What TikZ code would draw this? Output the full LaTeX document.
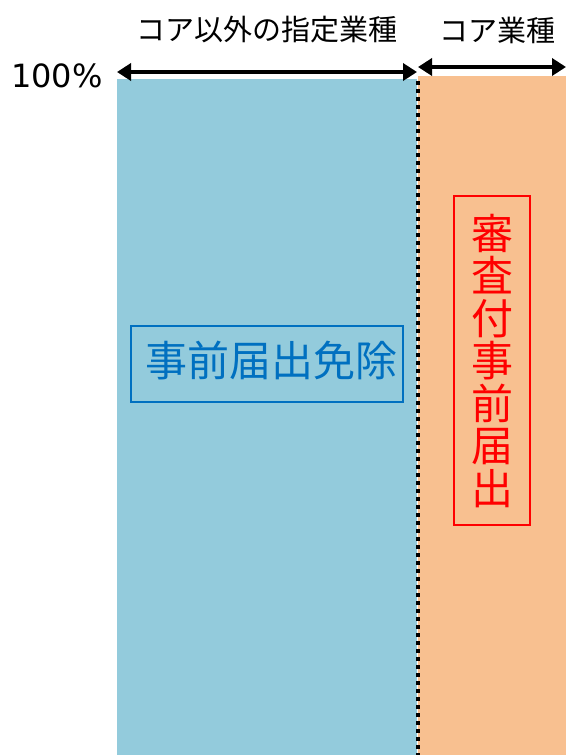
\documentclass[tikz,border=0pt]{standalone}
\usepackage{fontspec}
\setmainfont{Noto Sans CJK JP}
\newfontfamily\pctfont{DejaVu Sans}
\usetikzlibrary{arrows.meta}
\definecolor{bluefill}{HTML}{93CBDC}
\definecolor{orangefill}{HTML}{F8C090}
\definecolor{bluetext}{HTML}{0070C0}
\definecolor{redtext}{HTML}{FF0000}
\tikzset{
  dim/.style={line width=4pt,{Triangle[length=14pt,width=17pt]}-{Triangle[length=14pt,width=17pt]}},
  head/.style={font=\fontsize{29}{32}\selectfont,inner sep=0pt},
  bigtext/.style={font=\fontsize{42}{46}\selectfont,inner sep=0pt},
}
\begin{document}
\begin{tikzpicture}[x=1pt,y=-1pt]
\useasboundingbox (0,0) rectangle (566,755);
\fill[bluefill] (117,79) rectangle (417,755);
\fill[orangefill] (418,76) rectangle (566,755);
\coordinate (dtop) at (418,81);
\coordinate (dbot) at (418,755);
\draw[line width=4pt,dash pattern=on 4pt off 4pt] (dtop) -- (dbot);
\coordinate (a1) at (117,72);
\coordinate (a2) at (417,72);
\coordinate (b1) at (418,67);
\coordinate (b2) at (566,67);
\draw[dim] (a1) -- (a2);
\draw[dim] (b1) -- (b2);
\node[head] (t1) at (267,30) {コア以外の指定業種};
\node[head] (t2) at (497,30) {コア業種};
\node[inner sep=0pt,anchor=west,font=\pctfont\fontsize{32}{34}\selectfont] (p) at (11,76) {100\%};
\draw[bluetext,line width=2.5pt] (131,326) rectangle (403,402);
\node[bigtext,text=bluetext] (bx) at (271,360) {事前届出免除};
\draw[redtext,line width=2.5pt] (454,196) rectangle (530,525);
\node[bigtext,text=redtext,align=center,font=\fontsize{42}{42.5}\selectfont] (rx) at (492,361) {審\\査\\付\\事\\前\\届\\出};
\end{tikzpicture}
\end{document}
